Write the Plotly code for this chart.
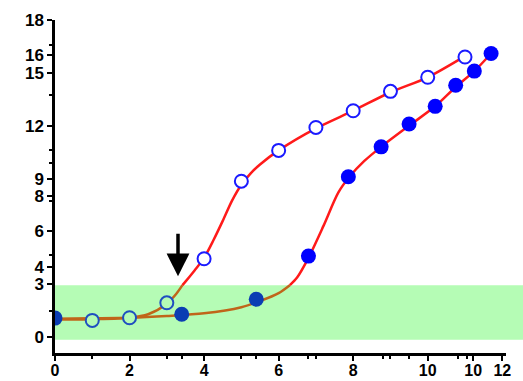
import plotly.graph_objects as go

# Open circles (series A)
open_x = [1, 2, 3, 4, 5, 6, 7, 8, 9, 10, 11]
open_y = [0.95, 1.1, 1.95, 4.45, 8.85, 10.6, 11.9, 12.85, 13.95, 14.75, 15.9]

# Filled circles (series B)
fill_x = [0, 3.4, 5.4, 6.8, 7.87, 8.75, 9.5, 10.2, 10.75, 11.25, 11.7]
fill_y = [1.08, 1.3, 2.15, 4.6, 9.1, 10.8, 12.1, 13.1, 14.3, 15.1, 16.1]

# Fitted curves
curveA_x = [0, 1, 2, 2.5, 3, 3.25, 3.42, 3.5, 3.75, 4, 4.25, 4.5, 4.75, 5, 5.25, 5.5, 6, 7, 8, 9, 10, 11]
curveA_y = [1.0, 1.02, 1.1, 1.3, 1.9, 2.45, 2.95, 3.15, 3.8, 4.5, 5.5, 6.6, 7.75, 8.65, 9.3, 9.8, 10.6, 11.85, 12.85, 13.9, 14.75, 15.95]
curveB_x = [0, 1, 2, 3, 4, 5, 5.5, 6, 6.3, 6.5, 6.8, 7.2, 7.6, 7.9, 8.3, 8.75, 9.5, 10.2, 10.75, 11.25, 11.7]
curveB_y = [1.05, 1.07, 1.1, 1.2, 1.35, 1.7, 2.05, 2.5, 2.95, 3.4, 4.5, 6.3, 8.2, 9.1, 10.0, 10.8, 12.0, 13.1, 14.2, 15.1, 16.1]

band = [-0.15, 2.95]

ytick_vals = [0, 3, 4, 6, 8, 9, 12, 15, 16, 18]
ytick_text = ["0", "3", "4", "6", "8", "9", "12", "15", "16", "18"]
xtick_vals = [0, 2, 4, 6, 8, 10, 11.22, 12]
xtick_text = ["0", "2", "4", "6", "8", "10", "10", "12"]
x_minor = [1, 3, 3.4, 5, 5.4, 6.8, 7, 8.8, 9, 9.5, 10.8, 11.06]
y_minor = [1.5, 4.66, 7.7, 9.9, 10.6, 13.75, 16.6]

arrow_x = 3.3
arrow_from = 5.95
arrow_to = 3.45

RED = "#ff1a1a"
BROWN = "#c0651a"
GREEN = "#b5fcb5"

fig = go.Figure()


def split(xs, ys, top):
    lo_x, lo_y, hi_x, hi_y = [], [], [], []
    for x, y in zip(xs, ys):
        if y <= top + 1e-9:
            lo_x.append(x); lo_y.append(y)
        if y >= top - 1e-9:
            hi_x.append(x); hi_y.append(y)
    return lo_x, lo_y, hi_x, hi_y


for cx, cy in [(curveA_x, curveA_y), (curveB_x, curveB_y)]:
    lx, ly, hx, hy = split(cx, cy, band[1])
    fig.add_trace(go.Scatter(x=lx, y=ly, mode="lines",
                             line=dict(color=BROWN, width=2.5, shape="spline", smoothing=0.8),
                             showlegend=False, hoverinfo="skip"))
    fig.add_trace(go.Scatter(x=hx, y=hy, mode="lines",
                             line=dict(color=RED, width=2.5, shape="spline", smoothing=0.8),
                             showlegend=False, hoverinfo="skip"))

in_band = lambda y: band[0] <= y <= band[1]

fig.add_trace(go.Scatter(
    x=open_x, y=open_y, mode="markers", showlegend=False,
    marker=dict(size=13, symbol="circle",
                color=[GREEN if in_band(v) else "white" for v in open_y],
                line=dict(width=2, color=["#1f4fc0" if in_band(v) else "#1a1aff" for v in open_y]))))
fig.add_trace(go.Scatter(
    x=fill_x, y=fill_y, mode="markers", showlegend=False,
    marker=dict(size=15, symbol="circle",
                color=["#0b3db3" if in_band(v) else "#0000ff" for v in fill_y],
                line=dict(width=0))))

fig.add_shape(type="rect", xref="paper", yref="y", x0=0, x1=1.04, y0=band[0], y1=band[1],
              fillcolor=GREEN, line=dict(width=0), layer="below")

fig.add_annotation(x=arrow_x, y=arrow_to, ax=arrow_x, ay=arrow_from, xref="x", yref="y",
                   axref="x", ayref="y", showarrow=True, arrowhead=2, arrowsize=1.3,
                   arrowwidth=3.5, arrowcolor="black", text="")

tfont = dict(family="Liberation Sans, Arial", size=17, color="black", weight="bold")
fig.update_xaxes(range=[0, 12.1], tickvals=xtick_vals, ticktext=xtick_text, showline=True,
                 linecolor="black", linewidth=2.5, ticks="outside", ticklen=5, tickwidth=2,
                 tickcolor="black", showgrid=False, zeroline=False, automargin=False,
                 tickfont=dict(family="Liberation Sans, Arial", size=16, color="black", weight="bold"),
                 ticklabelstandoff=-4,
                 minor=dict(tickvals=x_minor, ticks="outside", ticklen=3, tickwidth=1.5, tickcolor="black"))
fig.update_yaxes(range=[-0.9, 18], tickvals=ytick_vals, ticktext=ytick_text, showline=True,
                 linecolor="black", linewidth=2.5, ticks="outside", ticklen=5, tickwidth=2,
                 tickcolor="black", showgrid=False, zeroline=False, automargin=False,
                 tickfont=tfont,
                 minor=dict(tickvals=y_minor, ticks="outside", ticklen=3, tickwidth=1.5, tickcolor="black"))

fig.update_layout(width=523, height=381, margin=dict(l=55, r=17, t=20, b=28),
                  plot_bgcolor="white", paper_bgcolor="white")

fig.write_html("out.html")
